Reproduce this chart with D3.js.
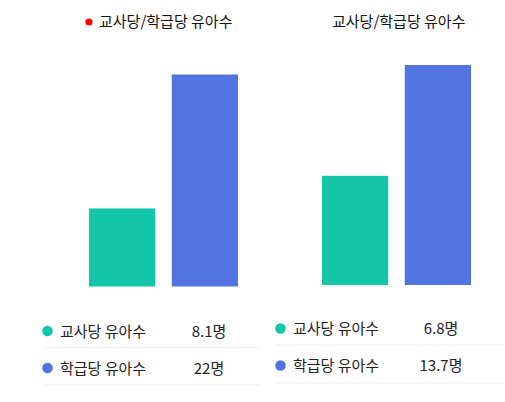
<!DOCTYPE html>
<html>
<head>
<meta charset="utf-8">
<script src="https://cdn.jsdelivr.net/npm/d3@7"></script>
<style>
  body { margin: 0; background: #fff; }
  svg { display: block; font-family: "Noto Sans CJK KR", "Noto Sans", sans-serif; }
</style>
</head>
<body>
<div id="chart"></div>
<script>
/*
    DATA
*/
let TITLES = ["교사당/학급당 유아수", "교사당/학급당 유아수"];
let CATEGORIES = ["교사당 유아수", "학급당 유아수"];
let LEFT_VALUES = [8.1, 22];
let RIGHT_VALUES = [6.8, 13.7];
let VALUE_LABELS = [["8.1명", "22명"], ["6.8명", "13.7명"]];
let COLORS = ["#14c6a8", "#5274e0"];

/*
    LAYOUT
*/
let SIZE = { width: 505, height: 402 };
let PANELS = [
    { values: LEFT_VALUES, x0: 89, x1: 238, top: 74.5, base: 286.5, titleX: 99, dot: true,
      legendX: 42, legendW: 219, valueX: 209, rowY: [331, 368], sepY: [347.5, 385] },
    { values: RIGHT_VALUES, x0: 322, x1: 471, top: 65, base: 285, titleX: 332, dot: false,
      legendX: 275, legendW: 228, valueX: 441, rowY: [328.5, 365.5], sepY: [345, 383] }
];

var svg = d3.select("#chart")
    .append("svg")
    .attr("width", SIZE.width)
    .attr("height", SIZE.height);

PANELS.forEach((p, pi) => drawPanel(p, pi));

function drawPanel(p, pi) {
    var g = svg.append("g");

    // title
    if (p.dot) {
        g.append("circle")
            .attr("cx", p.titleX - 10)
            .attr("cy", 22)
            .attr("r", 3.6)
            .attr("fill", "#ff0000");
    }
    g.append("text")
        .attr("x", p.titleX)
        .attr("y", 27)
        .attr("font-size", 15)
        .attr("fill", "#111")
        .text(TITLES[pi]);

    // bars
    var x = d3.scaleBand()
        .domain(CATEGORIES)
        .range([p.x0, p.x1])
        .paddingInner(0.2);
    var y = d3.scaleLinear()
        .domain([0, d3.max(p.values)])
        .range([p.base, p.top]);

    g.selectAll("rect.bar")
        .data(p.values)
        .enter()
        .append("rect")
        .attr("class", "bar")
        .attr("x", (d, i) => x(CATEGORIES[i]))
        .attr("width", x.bandwidth())
        .attr("y", d => y(d))
        .attr("height", d => p.base - y(d))
        .attr("fill", (d, i) => COLORS[i]);

    // legend table
    var rows = g.selectAll("g.row")
        .data(CATEGORIES)
        .enter()
        .append("g")
        .attr("class", "row");

    rows.append("circle")
        .attr("cx", p.legendX + 5.5)
        .attr("cy", (d, i) => p.rowY[i])
        .attr("r", 5.3)
        .attr("fill", (d, i) => COLORS[i]);
    rows.append("text")
        .attr("x", p.legendX + 18)
        .attr("y", (d, i) => p.rowY[i] + 5.5)
        .attr("font-size", 15)
        .attr("fill", "#222")
        .text(d => d);
    rows.append("text")
        .attr("x", p.valueX)
        .attr("y", (d, i) => p.rowY[i] + 5.5)
        .attr("text-anchor", "middle")
        .attr("font-size", 15)
        .attr("fill", "#222")
        .text((d, i) => VALUE_LABELS[pi][i]);
    rows.append("line")
        .attr("x1", p.legendX)
        .attr("x2", p.legendX + p.legendW)
        .attr("y1", (d, i) => p.sepY[i])
        .attr("y2", (d, i) => p.sepY[i])
        .attr("stroke", "#eeeeee")
        .attr("stroke-width", 1);
}
</script>
</body>
</html>
